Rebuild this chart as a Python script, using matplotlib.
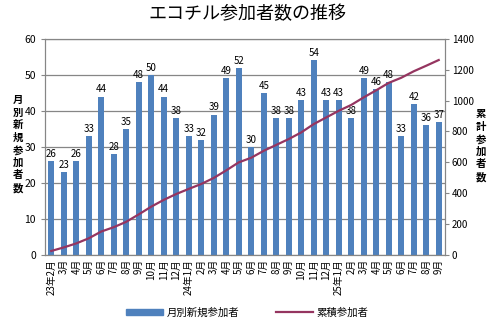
import numpy as np
import matplotlib
matplotlib.use("Agg")
import matplotlib.pyplot as plt
from matplotlib.patches import Patch
from matplotlib.lines import Line2D

plt.rcParams["font.family"] = ["Noto Sans CJK JP", "DejaVu Sans"]

months = ["23年2月", "3月", "4月", "5月", "6月", "7月", "8月", "9月", "10月", "11月", "12月",
          "24年1月", "2月", "3月", "4月", "5月", "6月", "7月", "8月", "9月", "10月", "11月", "12月",
          "25年1月", "2月", "3月", "4月", "5月", "6月", "7月", "8月", "9月"]
monthly = [26, 23, 26, 33, 44, 28, 35, 48, 50, 44, 38, 33, 32, 39, 49, 52, 30, 45, 38, 38,
           43, 54, 43, 43, 38, 49, 46, 48, 33, 42, 36, 37]
cumulative = [26, 49, 75, 108, 152, 180, 215, 263, 313, 357, 395, 428, 460, 499, 548, 600,
              630, 675, 713, 751, 794, 848, 891, 934, 972, 1021, 1067, 1115, 1148, 1190, 1226, 1263]

BAR_C = "#4f81bd"
LINE_C = "#953560"
GRID_C = "#868686"

fig = plt.figure(figsize=(4.95, 3.24), dpi=100)
ax = fig.add_axes([0.0909, 0.213, 0.808, 0.667])
x = np.arange(len(months))

ax.set_axisbelow(True)
ax.yaxis.grid(True, color=GRID_C, lw=0.9)
ax.bar(x, monthly, width=0.5, color=BAR_C, zorder=2)
for xi, v in zip(x, monthly):
    ax.text(xi, v + 0.6, str(v), ha="center", va="bottom", fontsize=7, color="black", zorder=4)

ax.set_ylim(0, 60)
ax.set_yticks(range(0, 61, 10))
ax.set_xlim(-0.5, len(months) - 0.5)
ax.set_xticks(x)
ax.set_xticklabels(months, rotation=90, fontsize=7)
ax.tick_params(axis="y", labelsize=7.5, length=3, color=GRID_C)
ax.tick_params(axis="x", length=0, pad=3)
for sp in ax.spines.values():
    sp.set_color(GRID_C)

ax2 = ax.twinx()
ax2.plot(x, cumulative, color=LINE_C, lw=1.6, zorder=5)
ax2.set_ylim(0, 1400)
ax2.set_yticks(range(0, 1401, 200))
ax2.tick_params(axis="y", labelsize=7, length=3, color=GRID_C, pad=2)
for sp in ax2.spines.values():
    sp.set_color(GRID_C)

fig.text(0.5, 0.955, "エコチル参加者数の推移", ha="center", va="center", fontsize=13)
fig.text(0.037, 0.555, "\n".join("月別新規参加者数"), ha="center", va="center",
         fontsize=7.5, fontweight="bold", linespacing=1.3)
fig.text(0.972, 0.55, "\n".join("累計参加者数"), ha="center", va="center",
         fontsize=7.5, fontweight="bold", linespacing=1.3)

handles = [Patch(color=BAR_C), Line2D([], [], color=LINE_C, lw=1.6)]
fig.legend(handles, ["月別新規参加者", "累積参加者"], loc="center", bbox_to_anchor=(0.5, 0.035),
           ncol=2, frameon=False, fontsize=7.5, handlelength=3.5, handleheight=0.6,
           columnspacing=3.5, handletextpad=0.4)

fig.savefig("out.png", dpi=100, facecolor="white")
